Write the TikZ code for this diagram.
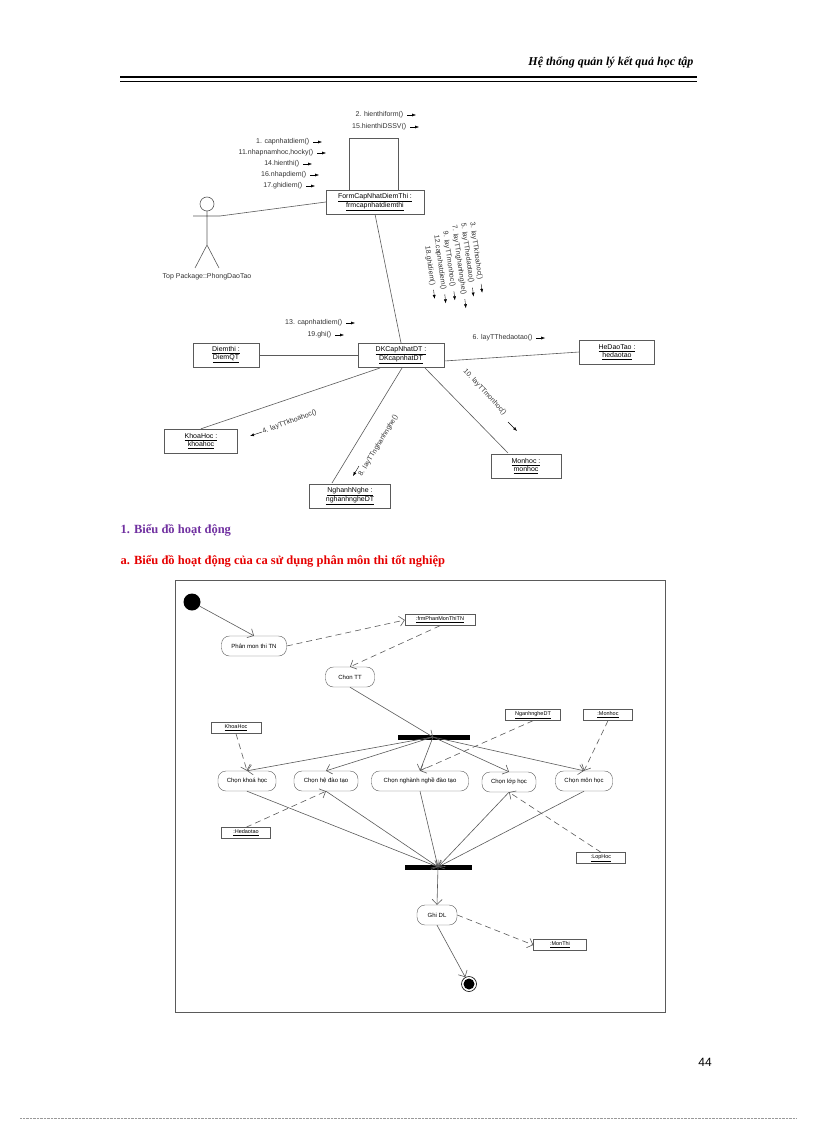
\documentclass[tikz,border=0pt]{standalone}
\usepackage{fontspec}
\setmainfont{Liberation Serif}
\newfontfamily\diag{Liberation Sans}
\usetikzlibrary{arrows.meta,calc}
\definecolor{ln}{RGB}{90,90,90}
\definecolor{hpurple}{RGB}{112,48,160}
\definecolor{hred}{RGB}{230,0,0}
\tikzset{
 obj/.style={draw=ln,fill=white,font=\diag\fontsize{7}{8}\selectfont,align=center,inner sep=1.5pt,minimum height=24pt},
 msg/.style={font=\diag\fontsize{7}{8}\selectfont,inner sep=0.5pt,text=black!80},
 marr/.style={-{Latex[length=4pt,width=3pt]},black},
 act/.style={draw=ln,rounded corners=8pt,font=\diag\fontsize{6}{7}\selectfont,minimum height=20pt,inner sep=2pt,fill=white},
 ob2/.style={draw=ln,font=\diag\fontsize{5.5}{6}\selectfont,inner sep=1.5pt,minimum height=11pt},
 ln/.style={draw=ln,line width=0.6pt},
 flow/.style={ln,-{Straight Barb[length=5pt]}},
 dep/.style={ln,dash pattern=on 6pt off 4pt,-{Straight Barb[length=5pt]}}
}
\begin{document}
\begin{tikzpicture}[x=1pt,y=-1pt]
\useasboundingbox (0,0) rectangle (816,1123);
% header
\node[anchor=east,font=\bfseries\itshape\fontsize{12}{14}\selectfont] (hdr) at (697,62) {Hệ thống quản lý kết quả học tập};
\draw[line width=1.2pt] (120,77) -- (697,77);
\draw[line width=0.5pt] (120,81) -- (697,81);
% ===== top diagram
\node[obj,minimum width=98pt] (form) at (375,202) {\underline{FormCapNhatDiemThi :}\\\underline{frmcapnhatdiemthi}};
\draw[ln] (349,190) -- (349,138) -- (398,138) -- (398,190);
% actor
\draw[ln] (207,204) circle (7);
\coordinate (actarm) at (220,216);
\draw[ln] (207,211) -- (207,245) (193,216) -- (actarm) (195,268) -- (207,245) -- (219,268);
\node[msg,anchor=north] (actlbl) at (207,273) {Top Package::PhongDaoTao};
\draw[ln] (actarm) -- (form.west);
\node[msg,anchor=east] (m1) at (310,142) {1. capnhatdiem()};
\node[msg,anchor=east] (m11) at (314,153) {11.nhapnamhoc,hocky()};
\node[msg,anchor=east] (m14) at (300,164) {14.hienthi()};
\node[msg,anchor=east] (m16) at (307,175) {16.nhapdiem()};
\node[msg,anchor=east] (m17) at (303,186) {17.ghidiem()};
\foreach \m in {m1,m11,m14,m16,m17}{\draw[marr] ($(\m.east)+(3,0)$) -- ++(9,0);}
\node[msg,anchor=east] (m2) at (404,115) {2. hienthiform()};
\node[msg,anchor=east] (m15) at (407,127) {15.hienthiDSSV()};
\foreach \m in {m2,m15}{\draw[marr] ($(\m.east)+(3,0)$) -- ++(9,0);}
\node[obj,minimum width=86pt] (dk) at (401,355) {\underline{DKCapNhatDT :}\\\underline{DKcapnhatDT}};
\draw[ln] (form.south) -- (dk.north);
% rotated messages
\foreach \x/\y/\t/\n in {472/222/3. layTTkhoahoc()/r1,463/223/5. layTThedaotao()/r2,454/225/7. layTTnghanhnghe()/r3,445/231/9. layTTmonhoc()/r4,436/235/12.capnhatdiem()/r5,427/246/18.ghidiem()/r6}{
 \node[msg,rotate=-82,anchor=west] (\n) at (\x,\y) {\t};
 \draw[marr] ($(\n.east)+(1,4)$) -- ++(1,9);
}
\node[msg,anchor=east] (m13) at (343,323) {13. capnhatdiem()};
\node[msg,anchor=east] (m19) at (332,335) {19.ghi()};
\foreach \m in {m13,m19}{\draw[marr] ($(\m.east)+(3,0)$) -- ++(9,0);}
\node[obj,minimum width=66pt] (diem) at (226,355) {\underline{Diemthi :}\\\underline{DiemQT}};
\node[obj,minimum width=75pt] (hdt) at (617,352) {\underline{HeDaoTao :}\\\underline{hedaotao}};
\node[obj,minimum width=73pt] (kh) at (201,441) {\underline{KhoaHoc :}\\\underline{khoahoc}};
\node[obj,minimum width=81pt] (nn) at (350,496) {\underline{NghanhNghe :}\\\underline{nghanhngheDT}};
\node[obj,minimum width=70pt] (mh) at (526,466) {\underline{Monhoc :}\\\underline{monhoc}};
\draw[ln] (diem.east) -- (dk.west);
\draw[ln] (dk.east) ++(0,6) -- (hdt.west);
\draw[ln] (380,368) -- (kh.north);
\draw[ln] (402,368) -- (332,483);
\draw[ln] (425,368) -- (508,453);
\node[msg,anchor=west] (m6) at (472,338) {6. layTThedaotao()};
\draw[marr] ($(m6.east)+(3,0)$) -- ++(9,0);
\node[msg,rotate=20,anchor=west] (m4) at (262,432) {4. layTTkhoahoc()};
\draw[marr] (262,432) -- (250,436);
\node[msg,rotate=59,anchor=west] (m8) at (360,476) {8. layTTnghanhnghe()};
\draw[marr] (359,466) -- (353,476);
\node[msg,rotate=-47,anchor=west] (m10) at (464,370) {10. layTTmonhoc()};
\draw[marr] (508,422) -- (517,431);
% headings
\node[anchor=west,text=hpurple,font=\bfseries\fontsize{12.5}{14}\selectfont] (h1) at (117,530) {1. Biểu đồ hoạt động};
\node[anchor=west,text=hred,font=\bfseries\fontsize{12.5}{14}\selectfont] (h2) at (117,561) {a. Biểu đồ hoạt động của ca sử dụng phân môn thi tốt nghiệp};
% ===== activity diagram
\draw[ln,line width=0.5pt] (175,580) rectangle (665,1012);
\node[circle,fill=black,minimum size=17pt,inner sep=0] (start) at (192,602) {};
\node[act,minimum width=65pt] (a1) at (254,646) {Phân mon thi TN};
\node[ob2,minimum width=70pt] (frm) at (440,620) {\underline{:frmPhanMonThiTN}};
\node[act,minimum width=49pt] (a2) at (350,677) {Chon TT};
\fill (398,735) rectangle (470,740);
\coordinate (fork) at (433,737);
\fill (405,865) rectangle (472,870);
\coordinate (join) at (438,867);
\node[act,minimum width=58pt] (c1) at (247,781) {Chọn khoá học};
\node[act,minimum width=64pt] (c2) at (326,781) {Chọn hệ đào tạo};
\node[act,minimum width=97pt] (c3) at (420,781) {Chọn nghành nghề đào tạo};
\node[act,minimum width=54pt] (c4) at (509,782) {Chọn lớp học};
\node[act,minimum width=57pt] (c5) at (584,781) {Chọn môn học};
\node[ob2,minimum width=50pt] (okh) at (236,728) {\underline{KhoaHoc}};
\node[ob2,minimum width=55pt] (onn) at (533,715) {\underline{NganhngheDT}};
\node[ob2,minimum width=49pt] (omh) at (608,715) {\underline{:Monhoc}};
\node[ob2,minimum width=49pt] (ohd) at (246,833) {\underline{:Hedaotao}};
\node[ob2,minimum width=49pt] (olh) at (601,858) {\underline{:LopHoc}};
\node[act,minimum width=40pt] (ghi) at (437,915) {Ghi DL};
\node[ob2,minimum width=53pt] (omt) at (560,945) {\underline{:MonThi}};
\node[circle,draw=black,line width=0.6pt,fill=white,minimum size=15pt,inner sep=0] (endc) at (469,984) {};
\fill (endc) circle (5.5);
\draw[flow] (start) -- (a1.north);
\draw[dep] (a1.east) -- (frm.west);
\draw[dep] (frm.south) -- (a2.north);
\draw[flow] (a2.south) -- (fork);
\foreach \c in {c1,c2,c3,c4,c5}{\draw[flow] (fork) -- (\c.north); \draw[flow] (\c.south) -- (join);}
\draw[dep] (okh.south) -- (c1.north);
\draw[dep] (onn.south) -- (c3.north);
\draw[dep] (omh.south) -- (c5.north);
\draw[dep] (ohd.north) -- (c2.south);
\draw[dep] (olh.north) -- (c4.south);
\draw[flow] (join) -- (ghi.north);
\draw[dep] (ghi.east) -- (omt.west);
\draw[flow] (ghi.south) -- (endc);
% footer
\node[font=\diag\fontsize{12}{14}\selectfont] (pg) at (705,1062) {44};
\draw[densely dotted,black!40] (20,1118) -- (796,1118);
\end{tikzpicture}
\end{document}
